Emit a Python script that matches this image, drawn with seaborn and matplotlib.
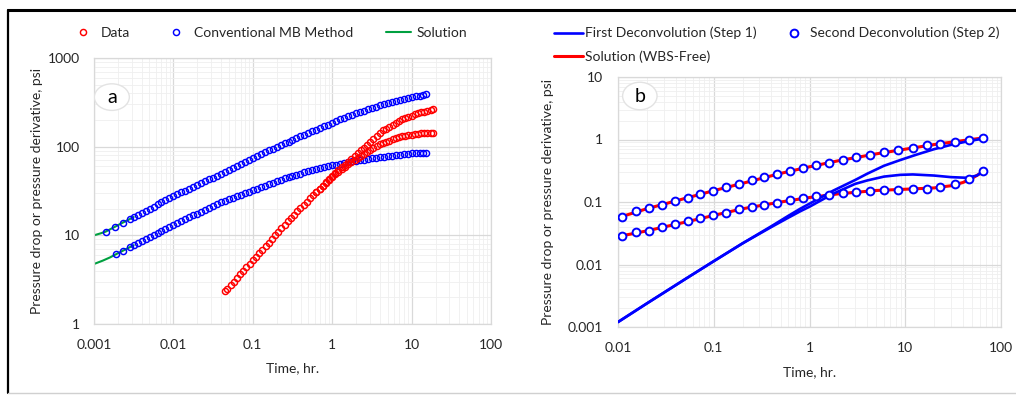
import matplotlib
matplotlib.use("Agg")
import matplotlib.pyplot as plt
import seaborn as sns
from matplotlib.lines import Line2D
from matplotlib.patches import Ellipse
from matplotlib.ticker import LogLocator, NullFormatter

# ---------------- Panel a data ----------------
t_grid = [0.00316, 0.00355, 0.00398, 0.00447, 0.00501, 0.00562, 0.00631, 0.00708, 0.00794, 0.00891,
          0.0100, 0.0112, 0.0126, 0.0141, 0.0158, 0.0178, 0.0200, 0.0224, 0.0251, 0.0282,
          0.0316, 0.0355, 0.0398, 0.0447, 0.0501, 0.0562, 0.0631, 0.0708, 0.0794, 0.0891,
          0.100, 0.112, 0.126, 0.141, 0.158, 0.178, 0.200, 0.224, 0.251, 0.282,
          0.316, 0.355, 0.398, 0.447, 0.501, 0.562, 0.631, 0.708, 0.794, 0.891,
          1.00, 1.12, 1.26, 1.41, 1.58, 1.78, 2.00, 2.24, 2.51, 2.82,
          3.16, 3.55, 3.98, 4.47, 5.01, 5.62, 6.31, 7.08, 7.94, 8.91,
          10.0, 11.2, 12.6, 14.1]
t_mb_up = [0.0014, 0.00184, 0.0023, 0.0028] + t_grid + [15.3]
mb_up = [11.0, 12.5, 13.9, 15.2,
         16.1, 17.0, 17.9, 18.9, 20.0, 21.1, 22.3, 23.5, 24.8, 26.2,
         27.7, 29.0, 30.5, 32.0, 33.6, 35.2, 37.0, 38.8, 40.7, 42.8,
         44.9, 47.1, 49.4, 51.9, 54.5, 57.4, 60.5, 63.8, 67.3, 71.0,
         74.8, 78.9, 83.2, 87.0, 91.0, 95.2, 99.5, 104.1, 108.9, 113.9,
         119.1, 124.6, 130.3, 136.3, 142.6, 149.1, 156.0, 162.9, 170.2, 177.8,
         185.8, 194.1, 202.8, 211.8, 221.3, 229.1, 237.1, 245.5, 254.1, 263.0,
         272.3, 281.8, 291.7, 299.9, 308.3, 317.0, 325.8, 335.0, 344.4, 352.4,
         360.6, 369.0, 377.6, 386.4, 392.6]
t_mb_lo = [0.00188, 0.0023, 0.0028] + t_grid + [15.3]
mb_lo = [6.10, 6.69, 7.32,
         7.74, 8.17, 8.61, 9.08, 9.57, 10.09, 10.64, 11.22, 11.83, 12.47,
         13.15, 13.80, 14.49, 15.21, 15.96, 16.75, 17.58, 18.45, 19.36, 20.32,
         21.33, 22.39, 23.50, 24.43, 25.41, 26.42, 27.48, 28.58, 29.72, 30.90,
         32.14, 33.42, 34.75, 36.14, 37.58, 39.08, 40.64, 42.27, 43.95, 45.34,
         46.77, 48.25, 49.77, 51.34, 52.97, 54.64, 56.36, 57.61, 58.88, 60.17,
         61.52, 62.88, 64.27, 65.69, 67.14, 68.23, 69.34, 70.47, 71.61, 72.78,
         73.96, 75.16, 76.38, 77.27, 78.16, 79.07, 79.98, 80.91, 81.85, 82.79,
         83.75, 84.14, 84.53, 85.11, 85.51]

t_data = [0.0445, 0.0479, 0.0525, 0.0575, 0.0631, 0.0692, 0.0759, 0.0832, 0.0912, 0.100,
          0.110, 0.120, 0.132, 0.145, 0.158, 0.174, 0.191, 0.209, 0.229, 0.251,
          0.275, 0.302, 0.331, 0.363, 0.398, 0.437, 0.479, 0.525, 0.575, 0.631,
          0.692, 0.759, 0.832, 0.912, 1.00, 1.10, 1.20, 1.32, 1.45, 1.58,
          1.74, 1.91, 2.09, 2.29, 2.51, 2.75, 3.02, 3.31, 3.63, 3.98,
          4.37, 4.79, 5.25, 5.75, 6.31, 6.92, 7.59, 8.32, 9.12, 10.0,
          11.0, 12.0, 13.2, 14.5, 15.8, 17.4, 18.5]
data_p = [2.33, 2.51, 2.75, 3.01, 3.30, 3.62, 3.97, 4.36, 4.78, 5.24,
          5.74, 6.30, 6.90, 7.57, 8.30, 9.10, 9.98, 10.94, 12.0, 13.15,
          14.42, 15.75, 17.13, 18.62, 20.25, 22.02, 23.94, 26.03, 28.31, 30.79,
          33.48, 36.41, 39.59, 43.05, 46.81, 50.39, 54.26, 58.41, 62.87, 67.68,
          72.86, 78.44, 84.44, 90.88, 97.81, 105.3, 113.3, 122.0, 131.3, 141.4,
          152.2, 160.0, 168.1, 176.7, 185.7, 195.2, 202.8, 209.8, 217.1, 224.6,
          232.4, 238.8, 243.6, 248.6, 253.7, 258.9, 262.6]
t_data_d = [0.631, 0.692, 0.759, 0.832, 0.912, 1.00, 1.10, 1.20, 1.32, 1.45,
            1.58, 1.74, 1.91, 2.09, 2.29, 2.51, 2.75, 3.02, 3.31, 3.63,
            3.98, 4.37, 4.79, 5.25, 5.75, 6.31, 6.92, 7.59, 8.32, 9.12,
            10.0, 11.0, 12.0, 13.2, 14.5, 15.8, 17.4, 18.5]
data_d = [30.79, 33.48, 36.41, 39.26, 42.35, 45.66, 48.71, 51.95, 55.41, 59.10,
          63.04, 66.62, 70.41, 74.41, 78.64, 83.11, 87.64, 91.86, 96.27, 100.9,
          105.8, 110.8, 114.0, 117.3, 120.7, 124.3, 127.9, 130.3, 132.3, 134.4,
          136.6, 138.7, 140.1, 140.8, 141.4, 142.1, 142.7, 143.2]

t_sol_up = [0.001, 0.0012, 0.0014, 0.00184, 0.0023, 0.0028, 0.00316]
sol_up = [10.0, 10.5, 11.0, 12.5, 13.9, 15.2, 16.1]
t_sol_lo = [0.001, 0.0013, 0.0016, 0.00188, 0.0023, 0.0028, 0.00316]
sol_lo = [4.75, 5.2, 5.65, 6.1, 6.69, 7.32, 7.74]

# ---------------- Panel b data ----------------
t_step2 = [0.0110, 0.0154, 0.0212, 0.0288, 0.0397, 0.0535, 0.0724, 0.0990, 0.134, 0.182,
           0.249, 0.337, 0.457, 0.625, 0.849, 1.17, 1.61, 2.22, 3.06, 4.32,
           5.96, 8.47, 12.0, 16.7, 23.2, 33.0, 46.7, 65.3]
step2_p = [0.0586, 0.0705, 0.0797, 0.0912, 0.1045, 0.117, 0.133, 0.151, 0.171, 0.193,
           0.221, 0.247, 0.279, 0.311, 0.348, 0.384, 0.424, 0.473, 0.521, 0.569,
           0.620, 0.667, 0.736, 0.802, 0.853, 0.906, 1.000, 1.064]
step2_d = [0.0291, 0.0329, 0.0341, 0.0396, 0.0442, 0.0500, 0.0558, 0.0615, 0.0679, 0.0759,
           0.0838, 0.0902, 0.0980, 0.106, 0.114, 0.1225, 0.1285, 0.138, 0.147, 0.151,
           0.157, 0.158, 0.163, 0.164, 0.172, 0.191, 0.232, 0.311]

t_wbs_p = [0.01, 0.02, 0.05, 0.1, 0.2, 0.5, 1, 2, 5, 10, 20, 40, 65]
wbs_p = [0.056, 0.078, 0.114, 0.152, 0.199, 0.287, 0.366, 0.457, 0.59, 0.70, 0.83, 0.96, 1.06]
t_wbs_d = [0.01, 0.02, 0.05, 0.1, 0.2, 0.5, 1, 2, 5, 10, 20, 30, 40, 50, 65]
wbs_d = [0.028, 0.0345, 0.0475, 0.061, 0.078, 0.100, 0.118, 0.135, 0.153, 0.160, 0.168, 0.182, 0.205, 0.24, 0.305]

t_dec_p = [0.01, 0.02, 0.05, 0.1, 0.2, 0.4, 0.6, 0.8, 1.0, 1.77, 3.0, 4.0, 6.0, 8.9, 13, 20, 30, 44, 64]
dec_p = [0.00120, 0.00238, 0.0058, 0.0113, 0.0218, 0.041, 0.060, 0.078, 0.094, 0.152,
         0.225, 0.283, 0.38, 0.47, 0.57, 0.70, 0.82, 0.93, 1.03]
t_dec_d = [0.01, 0.02, 0.05, 0.1, 0.2, 0.4, 0.6, 0.8, 1.0, 1.77, 3.0, 4.0, 6.0, 8.9, 12, 20, 30, 44, 56, 64]
dec_d = [0.00120, 0.00238, 0.0058, 0.0113, 0.0218, 0.0398, 0.056, 0.071, 0.084, 0.136,
         0.195, 0.221, 0.255, 0.272, 0.276, 0.265, 0.250, 0.244, 0.265, 0.305]

xt_a = [0.001, 0.01, 0.1, 1, 10, 100]
xl_a = ["0.001", "0.01", "0.1", "1", "10", "100"]
yt_a = [1, 10, 100, 1000]
yl_a = ["1", "10", "100", "1000"]
xt_b = [0.01, 0.1, 1, 10, 100]
xl_b = ["0.01", "0.1", "1", "10", "100"]
yt_b = [0.001, 0.01, 0.1, 1, 10]
yl_b = ["0.001", "0.01", "0.1", "1", "10"]

RED = "#FF0000"
BLUE = "#0000FF"
GREEN = "#00A040"
TXT = "#262626"

sns.set_theme(style="white")
plt.rcParams["font.family"] = ["Lato", "DejaVu Sans"]

W, H = 1016, 395
fig = plt.figure(figsize=(W / 100, H / 100), dpi=100)
fig.patch.set_facecolor("white")
axa = fig.add_axes([94 / W, 1 - 324 / H, 397 / W, 266 / H])
axb = fig.add_axes([618 / W, 1 - 327 / H, 383 / W, 250 / H])


def style(ax, xt, xl, yt, yl, xlim, ylim, xpad, ypad):
    ax.set_xscale("log")
    ax.set_yscale("log")
    ax.set_xlim(*xlim)
    ax.set_ylim(*ylim)
    ax.xaxis.set_minor_locator(LogLocator(base=10, subs=range(2, 10), numticks=30))
    ax.yaxis.set_minor_locator(LogLocator(base=10, subs=range(2, 10), numticks=30))
    ax.xaxis.set_minor_formatter(NullFormatter())
    ax.yaxis.set_minor_formatter(NullFormatter())
    ax.set_xticks(xt)
    ax.set_xticklabels(xl)
    ax.set_yticks(yt)
    ax.set_yticklabels(yl)
    ax.grid(True, which="major", color="#d9d9d9", lw=0.9)
    ax.grid(True, which="minor", color="#efefef", lw=0.6)
    ax.set_axisbelow(True)
    for s in ax.spines.values():
        s.set_color("#d9d9d9")
        s.set_linewidth(0.9)
    ax.tick_params(which="both", length=0, labelsize=10, colors=TXT)
    ax.tick_params(axis="x", pad=xpad)
    ax.tick_params(axis="y", pad=ypad)


def pts(ax, t, v, color, ms, mew, face, z):
    sns.lineplot(x=t, y=v, ax=ax, color=color, marker="o", markersize=ms,
                 markerfacecolor=face, markeredgecolor=color, markeredgewidth=mew,
                 linestyle="none", estimator=None, sort=False, legend=False, zorder=z)
    return ax.lines[-1]


def line(ax, t, v, color, lw, z):
    sns.lineplot(x=t, y=v, ax=ax, color=color, lw=lw, estimator=None,
                 sort=False, legend=False, zorder=z)
    return ax.lines[-1]


style(axa, xt_a, xl_a, yt_a, yl_a, (0.001, 100), (1, 1000), 11, 10)
style(axb, xt_b, xl_b, yt_b, yl_b, (0.01, 100), (0.001, 10), 10.5, 10.5)

# Panel a
h_sol = line(axa, t_sol_up, sol_up, GREEN, 1.5, 2)
line(axa, t_sol_lo, sol_lo, GREEN, 1.5, 2)
h_mb = pts(axa, t_mb_up, mb_up, BLUE, 4.4, 1.05, "none", 3)
pts(axa, t_mb_lo, mb_lo, BLUE, 4.4, 1.05, "none", 3)
h_data = pts(axa, t_data, data_p, RED, 4.4, 1.05, "none", 4)
pts(axa, t_data_d, data_d, RED, 4.4, 1.05, "none", 4)

# Panel b
h_wbs = line(axb, t_wbs_p, wbs_p, RED, 2.2, 2)
line(axb, t_wbs_d, wbs_d, RED, 2.2, 2)
h_dec = line(axb, t_dec_p, dec_p, BLUE, 1.9, 3)
line(axb, t_dec_d, dec_d, BLUE, 1.9, 3)
h_s2 = pts(axb, t_step2, step2_p, BLUE, 5.6, 1.4, "white", 4)
pts(axb, t_step2, step2_d, BLUE, 5.6, 1.4, "white", 4)

ylab = "Pressure drop or pressure derivative, psi"
for ax, xc, yc in ((axa, -0.128, -0.143), (axb, -0.167, -0.156)):
    ax.set_xlabel("Time, hr.", fontsize=10, color=TXT)
    ax.set_ylabel(ylab, fontsize=10, color=TXT)
    ax.yaxis.set_label_coords(xc, 0.5)
    ax.xaxis.set_label_coords(0.5, yc)
    ax.xaxis.label.set_va("top")

# panel letters
axa.add_patch(Ellipse((0.045, 0.853), 0.088, 0.10, transform=axa.transAxes,
                      facecolor="white", edgecolor="#e3e3e3", lw=1, zorder=5))
axa.text(0.045, 0.853, "a", transform=axa.transAxes, ha="center", va="center",
         fontsize=14, color="black", zorder=6)
axb.add_patch(Ellipse((0.057, 0.924), 0.09, 0.11, transform=axb.transAxes,
                      facecolor="white", edgecolor="#e3e3e3", lw=1, zorder=5))
axb.text(0.057, 0.924, "b", transform=axb.transAxes, ha="center", va="center",
         fontsize=14, color="black", zorder=6)

# legends
la = axa.legend([h_data, h_mb, h_sol], ["Data", "Conventional MB Method", "Solution"],
                ncol=3, loc="center left", bbox_to_anchor=(70 / W, 1 - 33 / H),
                bbox_transform=fig.transFigure, frameon=False, fontsize=10,
                handlelength=1.8, handletextpad=0.4, columnspacing=2.4,
                borderpad=0, borderaxespad=0)
for tx in la.get_texts():
    tx.set_color(TXT)
lb = axb.legend([h_dec, h_wbs, h_s2],
                ["First Deconvolution (Step 1)", "Solution (WBS-Free)", "Second Deconvolution (Step 2)"],
                ncol=2, loc="center left", bbox_to_anchor=(554 / W, 1 - 45 / H),
                bbox_transform=fig.transFigure, frameon=False, fontsize=10,
                handlelength=2.1, handletextpad=0.15, columnspacing=1.6,
                labelspacing=0.8, borderpad=0, borderaxespad=0)
for tx in lb.get_texts():
    tx.set_color(TXT)

# outer frame
fig.add_artist(Line2D([8 / W, 1.0], [1 - 10 / H, 1 - 10 / H], transform=fig.transFigure,
                      color="black", lw=2.2))
fig.add_artist(Line2D([8 / W, 8 / W], [1 - 10 / H, 1 - 393 / H], transform=fig.transFigure,
                      color="black", lw=1.6))
fig.add_artist(Line2D([8 / W, 1.0], [1 - 393 / H, 1 - 393 / H], transform=fig.transFigure,
                      color="#d0d0d0", lw=1.0))

fig.savefig("out.png", dpi=100, facecolor="white")
